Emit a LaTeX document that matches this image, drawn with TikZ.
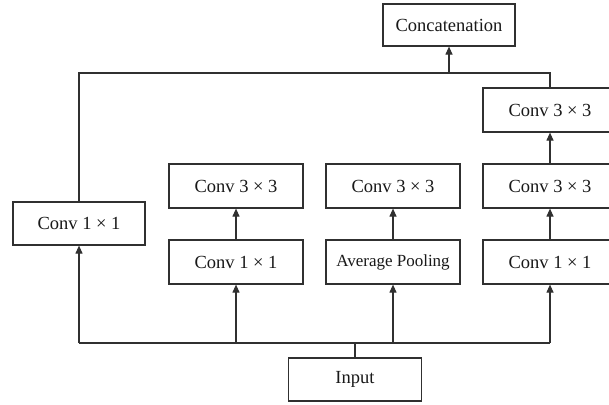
\documentclass[tikz,border=0pt]{standalone}
\usepackage{fontspec}
\setmainfont{Liberation Serif}
\usetikzlibrary{arrows.meta}
\definecolor{ink}{HTML}{303030}
\tikzset{
  block/.style={draw=ink, line width=1.2pt, fill=white, minimum width=133pt,
    minimum height=43pt, inner sep=0pt, font=\fontsize{18.5}{20}\selectfont, text=black!90},
  link/.style={draw=ink, line width=1.1pt},
  arr/.style={link, -{Triangle[length=8pt, width=7pt]}},
}
\begin{document}
\begin{tikzpicture}[x=1pt, y=-1pt]
  \clip (0,0) rectangle (609,404);
  \fill[white] (0,0) rectangle (609,404);

  % output and input
  \node[block, minimum width=132pt, minimum height=42pt] (concat) at (449,25) {Concatenation};
  \node[block] (input) at (355,379.5) {Input};

  % branch 1
  \node[block, minimum width=132pt] (b1) at (79,223.5) {Conv 1 × 1};

  % branch 2
  \node[block, minimum width=134pt, minimum height=44pt] (b2a) at (236,262) {Conv 1 × 1};
  \node[block, minimum width=134pt, minimum height=44pt] (b2b) at (236,186) {Conv 3 × 3};

  % branch 3
  \node[block, minimum width=134pt, minimum height=44pt, font=\fontsize{17}{20}\selectfont] (b3a) at (393,262) {Average Pooling};
  \node[block, minimum width=134pt, minimum height=44pt] (b3b) at (393,186) {Conv 3 × 3};

  % branch 4
  \node[block, minimum width=134pt, minimum height=44pt] (b4a) at (550,262) {Conv 1 × 1};
  \node[block, minimum width=134pt, minimum height=44pt] (b4b) at (550,186) {Conv 3 × 3};
  \node[block, minimum width=134pt, minimum height=44pt] (b4c) at (550,110) {Conv 3 × 3};

  % bus lines
  \coordinate (tr) at (550,73);
  \coordinate (bl) at (79,343);
  \coordinate (br) at (550,343);

  % input fan-out
  \draw[link] (input.north) -- (input.north |- bl);
  \draw[link] (bl) -- (br);
  \draw[arr] (bl) -- (b1.south);
  \draw[arr] (b2a.south |- bl) -- (b2a.south);
  \draw[arr] (b3a.south |- bl) -- (b3a.south);
  \draw[arr] (br) -- (b4a.south);

  % inner arrows
  \draw[arr] (b2a.north) -- (b2b.south);
  \draw[arr] (b3a.north) -- (b3b.south);
  \draw[arr] (b4a.north) -- (b4b.south);
  \draw[arr] (b4b.north) -- (b4c.south);

  % fan-in to concatenation
  \draw[link] (b1.north) |- (tr) -- (b4c.north);
  \draw[arr] (concat.south |- tr) -- (concat.south);
\end{tikzpicture}
\end{document}
